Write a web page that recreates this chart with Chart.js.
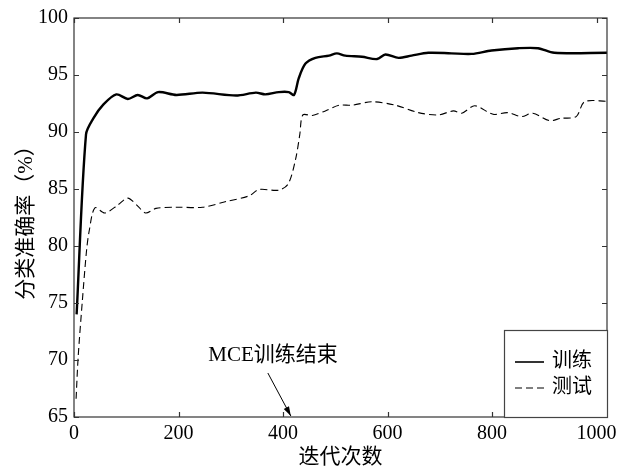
<!DOCTYPE html>
<html>
<head>
<meta charset="utf-8">
<script src="https://cdn.jsdelivr.net/npm/chart.js@4/dist/chart.umd.min.js"></script>
<style>
  html, body { margin: 0; padding: 0; background: #fff; }
  #wrap { width: 628px; height: 470px; }
</style>
</head>
<body>
<div id="wrap"><canvas id="chart" width="628" height="470"></canvas></div>
<script>
// values
const trainIter = [5, 23, 37, 56, 81, 103, 122, 140, 161, 196, 246, 310, 348, 366, 392, 411, 421, 430, 443, 462, 488, 503, 519, 551, 580, 596, 621, 646, 678, 722, 761, 799, 850, 888, 919, 1020];
const trainAcc  = [74.0, 89.8, 91.2, 92.4, 93.3, 92.9, 93.25, 92.95, 93.5, 93.25, 93.45, 93.2, 93.45, 93.3, 93.5, 93.5, 93.25, 94.7, 96.0, 96.5, 96.7, 96.9, 96.7, 96.6, 96.4, 96.8, 96.5, 96.7, 96.95, 96.9, 96.85, 97.15, 97.35, 97.35, 96.95, 96.95];

const testIter = [4, 8, 16, 24, 29, 40, 59, 84, 103, 122, 137, 157, 196, 246, 291, 335, 354, 392, 410, 424, 432, 438, 456, 481, 507, 532, 570, 615, 659, 697, 726, 742, 767, 802, 830, 856, 878, 910, 932, 961, 977, 1020];
const testAcc  = [66.6, 70.3, 75.2, 79.6, 81.3, 83.35, 82.9, 83.6, 84.2, 83.5, 82.9, 83.3, 83.4, 83.4, 83.9, 84.4, 84.95, 84.9, 85.45, 87.6, 89.75, 91.5, 91.45, 91.85, 92.35, 92.35, 92.65, 92.35, 91.7, 91.5, 91.85, 91.65, 92.3, 91.55, 91.7, 91.35, 91.65, 91.0, 91.2, 91.35, 92.65, 92.7];

const xTicks = [0, 200, 400, 600, 800, 1000];
const yTicks = [65, 70, 75, 80, 85, 90, 95, 100];
const seriesNames = ['训练', '测试'];
const noteText = 'MCE训练结束';
const noteIter = 415;

const serif = '"Liberation Serif", "Times New Roman", serif';
const cjk = '"Liberation Serif", "Noto Sans CJK SC", serif';

function toPoints(xs, ys) {
  return xs.map((x, i) => ({ x: x, y: ys[i] }));
}

// box, inward ticks on all four sides, legend and note
const frame = {
  id: 'frame',
  afterDatasetsDraw(chart) {
    const ctx = chart.ctx;
    const a = chart.chartArea;
    const xs = chart.scales.x;
    const ys = chart.scales.y;
    ctx.save();
    ctx.strokeStyle = '#333';
    ctx.lineWidth = 1.2;
    ctx.strokeRect(a.left, a.top, a.right - a.left, a.bottom - a.top);
    const t = 5;
    ctx.beginPath();
    xTicks.forEach(v => {
      const px = Math.round(xs.getPixelForValue(v)) + 0.5;
      ctx.moveTo(px, a.bottom); ctx.lineTo(px, a.bottom - t);
      ctx.moveTo(px, a.top); ctx.lineTo(px, a.top + t);
    });
    yTicks.forEach(v => {
      const py = Math.round(ys.getPixelForValue(v)) + 0.5;
      ctx.moveTo(a.left, py); ctx.lineTo(a.left + t, py);
      ctx.moveTo(a.right, py); ctx.lineTo(a.right - t, py);
    });
    ctx.stroke();

    // legend box in lower right corner
    const lx = 504, ly = 330;
    ctx.fillStyle = '#fff';
    ctx.fillRect(lx, ly, a.right - lx, a.bottom - ly);
    ctx.strokeStyle = '#444';
    ctx.lineWidth = 1.2;
    ctx.strokeRect(lx + 0.5, ly + 0.5, a.right - lx, a.bottom - ly);
    ctx.font = '20px ' + cjk;
    ctx.textBaseline = 'middle';
    ctx.textAlign = 'left';
    chart.data.datasets.forEach((ds, i) => {
      const yy = 362 + i * 26;
      ctx.beginPath();
      ctx.strokeStyle = '#000';
      ctx.lineWidth = i === 0 ? 1.6 : 1.2;
      ctx.setLineDash(ds.borderDash || []);
      ctx.moveTo(515, yy); ctx.lineTo(544, yy);
      ctx.stroke();
      ctx.setLineDash([]);
      ctx.fillStyle = '#000';
      ctx.fillText(ds.label, 552, yy);
    });

    // note with arrow
    const tipX = xs.getPixelForValue(noteIter);
    const tipY = ys.getPixelForValue(65) - 1;
    const tailX = tipX - 23, tailY = tipY - 43;
    ctx.strokeStyle = '#000';
    ctx.fillStyle = '#000';
    ctx.lineWidth = 1;
    ctx.beginPath();
    ctx.moveTo(tailX, tailY); ctx.lineTo(tipX, tipY);
    ctx.stroke();
    const ang = Math.atan2(tipY - tailY, tipX - tailX);
    ctx.beginPath();
    ctx.moveTo(tipX, tipY);
    ctx.lineTo(tipX - 10 * Math.cos(ang - 0.3), tipY - 10 * Math.sin(ang - 0.3));
    ctx.lineTo(tipX - 10 * Math.cos(ang + 0.3), tipY - 10 * Math.sin(ang + 0.3));
    ctx.closePath();
    ctx.fill();
    ctx.font = '21px ' + cjk;
    ctx.textAlign = 'center';
    ctx.textBaseline = 'middle';
    ctx.fillText(noteText, 273, 355);
    ctx.restore();
  }
};

new Chart(document.getElementById('chart'), {
  type: 'line',
  data: {
    datasets: [
      {
        label: seriesNames[0],
        data: toPoints(trainIter, trainAcc),
        borderColor: '#000',
        borderWidth: 2.4,
        pointRadius: 0,
        tension: 0.3,
        fill: false
      },
      {
        label: seriesNames[1],
        data: toPoints(testIter, testAcc),
        borderColor: '#000',
        borderWidth: 1.1,
        borderDash: [7, 4],
        pointRadius: 0,
        tension: 0.3,
        fill: false
      }
    ]
  },
  options: {
    responsive: false,
    animation: false,
    layout: { padding: { left: 0, top: 16, right: 21, bottom: 0 } },
    plugins: {
      legend: { display: false },
      tooltip: { enabled: false }
    },
    scales: {
      x: {
        type: 'linear',
        min: 0,
        max: 1020,
        afterBuildTicks: s => { s.ticks = xTicks.map(v => ({ value: v })); },
        afterFit: s => { s.height = 53; },
        grid: { display: false, drawTicks: false },
        border: { display: false },
        ticks: { color: '#000', font: { family: serif, size: 20 }, padding: 5, maxRotation: 0, callback: v => String(v) },
        title: { display: true, text: '迭代次数', color: '#000', font: { family: cjk, size: 21 }, padding: { top: 0, bottom: 0 } }
      },
      y: {
        min: 65,
        max: 100,
        afterBuildTicks: s => { s.ticks = yTicks.map(v => ({ value: v })); },
        afterFit: s => { s.width = 74; },
        grid: { display: false, drawTicks: false },
        border: { display: false },
        ticks: { color: '#000', font: { family: serif, size: 20 }, padding: 6, callback: v => String(v) },
        title: { display: true, text: '分类准确率（%）', color: '#000', font: { family: cjk, size: 21 }, padding: { top: 14, bottom: 0 } }
      }
    }
  },
  plugins: [frame]
});
</script>
</body>
</html>
